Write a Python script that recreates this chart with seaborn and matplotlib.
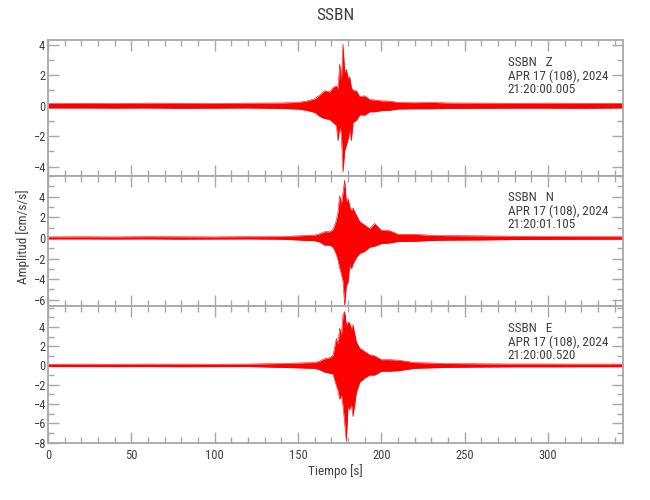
import numpy as np
import pandas as pd
import seaborn as sns
import matplotlib
matplotlib.use("Agg")
import matplotlib.pyplot as plt
from matplotlib.ticker import MultipleLocator, FixedLocator
from matplotlib import font_manager

tiempo = [0, 20, 40, 60, 80, 100, 120, 140, 150, 155, 160, 163, 166, 169, 171,
          173, 174, 175, 176, 177, 178, 179, 180, 181, 182, 183, 185, 187, 190,
          193, 196, 200, 205, 210, 220, 230, 240, 260, 280, 300, 320, 345]

# Z component: upper / lower envelope [cm/s/s]
z_sup = [0.15, 0.16, 0.15, 0.17, 0.16, 0.15, 0.17, 0.18, 0.22, 0.3, 0.45, 0.7, 0.98, 0.9, 1.2,
         1.3, 1.1, 2.75, 1.6, 4.05, 2.2, 2.4, 1.8, 1.9, 1.2, 1.0, 0.98, 0.6, 0.65,
         0.4, 0.38, 0.32, 0.3, 0.22, 0.2, 0.22, 0.18, 0.17, 0.16, 0.17, 0.16, 0.16]
z_inf = [-0.15, -0.15, -0.16, -0.15, -0.17, -0.16, -0.15, -0.18, -0.22, -0.3, -0.44, -0.7, -0.85, -0.9, -1.1,
         -1.3, -2.3, -1.4, -1.8, -4.37, -2.95, -2.6, -2.2, -1.6, -2.3, -1.1, -0.95, -0.6, -0.62,
         -0.4, -0.4, -0.32, -0.3, -0.22, -0.2, -0.2, -0.18, -0.17, -0.16, -0.16, -0.17, -0.15]

# N component
n_sup = [0.1, 0.11, 0.1, 0.12, 0.11, 0.1, 0.12, 0.13, 0.2, 0.25, 0.27, 0.4, 0.6, 0.6, 0.8,
         1.7, 2.5, 4.1, 3.2, 4.45, 5.6, 3.5, 3.8, 3.1, 2.6, 2.9, 2.2, 1.6, 1.25,
         0.9, 1.4, 0.74, 0.7, 0.35, 0.35, 0.25, 0.22, 0.2, 0.16, 0.14, 0.13, 0.12]
n_inf = [-0.1, -0.1, -0.11, -0.1, -0.12, -0.11, -0.1, -0.13, -0.2, -0.25, -0.27, -0.4, -0.7, -0.7, -0.9,
         -1.6, -2.2, -2.9, -3.5, -4.2, -6.6, -4.6, -4.3, -2.6, -3.0, -2.5, -1.9, -1.5, -1.3,
         -0.9, -0.8, -0.55, -0.5, -0.35, -0.33, -0.25, -0.22, -0.2, -0.16, -0.14, -0.13, -0.12]

# E component
e_sup = [0.12, 0.13, 0.12, 0.14, 0.13, 0.12, 0.14, 0.2, 0.25, 0.28, 0.3, 0.45, 0.7, 0.8, 1.05,
         2.8, 2.2, 3.9, 3.0, 5.25, 5.6, 4.2, 4.5, 4.4, 3.8, 4.2, 2.45, 1.8, 1.45,
         1.1, 1.0, 0.6, 0.6, 0.55, 0.3, 0.25, 0.2, 0.17, 0.15, 0.15, 0.14, 0.14]
e_inf = [-0.12, -0.12, -0.13, -0.12, -0.14, -0.13, -0.12, -0.2, -0.25, -0.28, -0.3, -0.45, -0.7, -0.8, -0.9,
         -2.1, -2.6, -3.5, -3.0, -4.2, -6.0, -7.9, -4.2, -4.6, -3.9, -5.3, -2.8, -1.75, -1.3,
         -1.0, -1.0, -0.6, -0.6, -0.55, -0.3, -0.25, -0.2, -0.17, -0.15, -0.15, -0.14, -0.14]

componentes = ["Z", "N", "E"]
horas = ["21:20:00.005", "21:20:01.105", "21:20:00.520"]
fecha = "APR 17 (108), 2024"
estacion = "SSBN"
y_limites = [(-4.59, 4.31), (-6.6, 6.03), (-8.05, 6.17)]
y_ticks = [[-4, -2, 0, 2, 4], [-6, -4, -2, 0, 2, 4], [-8, -6, -4, -2, 0, 2, 4]]

sns.set_theme(style="ticks")
# narrow face if one is installed, otherwise plain DejaVu
nombres = {f.name for f in font_manager.fontManager.ttflist}
familia = [f for f in ["Liberation Sans Narrow", "Roboto Condensed", "DejaVu Sans"] if f in nombres]
plt.rcParams['font.family'] = familia + ['DejaVu Sans']
estrecho = familia[0] != "DejaVu Sans"

gris = "#a8a8a8"
texto = "#404040"
tam = 9 if estrecho else 8.5

fig, axes = plt.subplots(3, 1, figsize=(6.5, 5.0), dpi=100, sharex=True,
                         gridspec_kw=dict(hspace=0, left=0.0738, right=0.9585,
                                          top=0.92, bottom=0.114,
                                          height_ratios=[135.7, 130.3, 137]))

trazas = [(z_sup, z_inf), (n_sup, n_inf), (e_sup, e_inf)]
for ax, (sup, inf), comp, hora, ylim, yt in zip(axes, trazas, componentes, horas,
                                                y_limites, y_ticks):
    df = pd.DataFrame({"t": tiempo, "sup": sup, "inf": inf})
    ax.fill_between(df["t"], df["inf"], df["sup"], color="red", lw=0)
    sns.lineplot(data=df, x="t", y="sup", color="red", lw=0.4, ax=ax)
    sns.lineplot(data=df, x="t", y="inf", color="red", lw=0.4, ax=ax)
    ax.set_xlim(0, 345)
    ax.set_ylim(*ylim)
    ax.set_xlabel("")
    ax.set_ylabel("")
    ax.xaxis.set_major_locator(MultipleLocator(50))
    ax.xaxis.set_minor_locator(MultipleLocator(10))
    ax.yaxis.set_major_locator(FixedLocator(yt))
    ax.yaxis.set_minor_locator(MultipleLocator(1))
    ax.tick_params(which="both", direction="in", top=True, right=True,
                   color=gris, labelcolor=texto, labelsize=tam, width=1, pad=2)
    ax.tick_params(which="major", length=8)
    ax.tick_params(which="minor", length=4.5)
    for s in ax.spines.values():
        s.set_color(gris)
        s.set_linewidth(1.3)
        s.set_visible(True)
    ax.text(275.7, 0.885, f"{estacion}   {comp}\n{fecha}\n{hora}",
            transform=ax.get_xaxis_transform(), ha="left", va="top",
            fontsize=tam + 0.5, color=texto, linespacing=1.05)

axes[2].tick_params(axis="x", labelbottom=True, pad=4)
fig.suptitle(estacion, x=0.516, y=0.985, fontsize=12.5, color=texto)
fig.text(0.516, 0.058, "Tiempo [s]", ha="center", va="center", fontsize=tam + 0.5, color=texto)
fig.text(0.036, 0.526, "Amplitud [cm/s/s]", rotation=90, ha="center", va="center",
         fontsize=tam + 0.5, color=texto)

fig.savefig("out.png", dpi=100)
